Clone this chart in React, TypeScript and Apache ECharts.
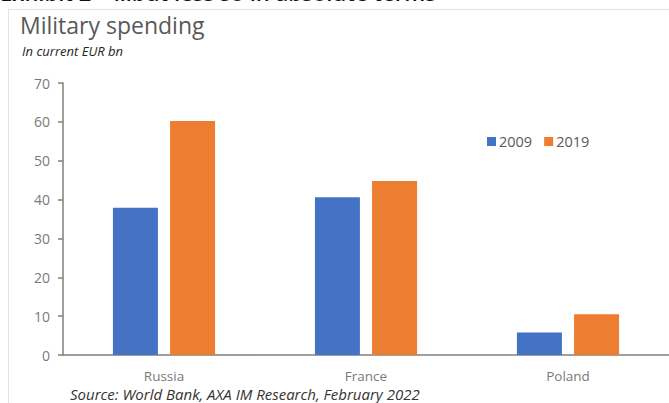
import React, { useEffect, useRef } from "react";
import * as echarts from "echarts";

const categories = ["Russia", "France", "Poland"];
const seriesNames = ["2009", "2019"];
const values2009 = [37.9, 40.6, 5.8];
const values2019 = [60.2, 44.8, 10.5];
const yTicks = { min: 0, max: 70, interval: 10 };

const FONT = "'Open Sans', 'Noto Sans', sans-serif";

export default function App() {
  const ref = useRef<HTMLDivElement>(null);
  useEffect(() => {
    document.body.style.margin = "0";
    if (!ref.current) return;
    const chart = echarts.init(ref.current, undefined, { renderer: "svg" });
    chart.setOption({
      animation: false,
      backgroundColor: "#ffffff",
      textStyle: { fontFamily: FONT },
      grid: { left: 63, right: -2, top: 83, bottom: 48, containLabel: false },
      legend: {
        data: seriesNames,
        left: 482,
        top: 129,
        itemWidth: 9,
        itemHeight: 9,
        itemGap: 12,
        icon: "rect",
        textStyle: { color: "#595959", fontSize: 14.5, fontFamily: FONT, padding: [0, 0, 0, -2] },
      },
      xAxis: {
        type: "category",
        data: categories,
        axisLine: { show: true, lineStyle: { color: "#7f7f7f", width: 1.5 } },
        axisTick: { show: false },
        axisLabel: { color: "#7a7a7a", fontSize: 13.5, lineHeight: 13, margin: 14, fontFamily: FONT },
      },
      yAxis: {
        type: "value",
        min: yTicks.min,
        max: yTicks.max,
        interval: yTicks.interval,
        splitLine: { show: false },
        axisLine: { show: true, lineStyle: { color: "#7f7f7f", width: 1.5 } },
        axisTick: { show: true, length: 5, lineStyle: { color: "#7f7f7f", width: 1.5 } },
        axisLabel: { color: "#7a7a7a", fontSize: 14, margin: 13, fontFamily: FONT },
      },
      series: [
        {
          name: seriesNames[0],
          type: "bar",
          data: values2009,
          barWidth: 45,
          barGap: "27%",
          itemStyle: { color: "#4472c4" },
        },
        {
          name: seriesNames[1],
          type: "bar",
          data: values2019,
          barWidth: 45,
          barGap: "27%",
          itemStyle: { color: "#ed7d31" },
        },
      ],
      graphic: [
        {
          type: "line",
          shape: { x1: 8.5, y1: 9, x2: 8.5, y2: 403 },
          style: { stroke: "#e3e3e3", lineWidth: 1 },
          silent: true,
        },
        {
          type: "line",
          shape: { x1: 8, y1: 9.5, x2: 669, y2: 9.5 },
          style: { stroke: "#e3e3e3", lineWidth: 1 },
          silent: true,
        },
        {
          type: "text",
          left: 0,
          top: -19,
          style: {
            text: "Exhibit 2 – ...but less so in absolute terms",
            fill: "#111111",
            font: `600 22px ${FONT}`,
          },
          silent: true,
        },
        {
          type: "text",
          left: 20,
          top: 13,
          style: {
            text: "Military spending",
            fill: "#595959",
            font: `23px ${FONT}`,
          },
          silent: true,
        },
        {
          type: "text",
          left: 22,
          top: 44,
          style: {
            text: "In current EUR bn",
            fill: "#262626",
            font: `italic 13px ${FONT}`,
          },
          silent: true,
        },
        {
          type: "text",
          left: 70,
          top: 386,
          style: {
            text: "Source: World Bank, AXA IM Research, February 2022",
            fill: "#333333",
            font: `italic 15px ${FONT}`,
            lineHeight: 15,
          },
          silent: true,
        },
      ],
    });
    return () => chart.dispose();
  }, []);
  return <div ref={ref} style={{ width: 669, height: 403 }} />;
}
